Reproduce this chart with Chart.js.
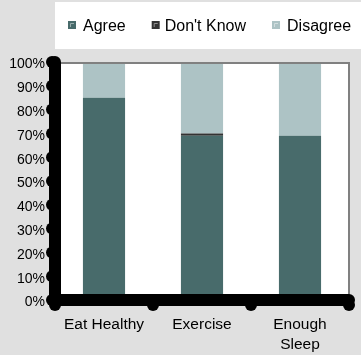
<!DOCTYPE html>
<html>
<head>
<meta charset="utf-8">
<script src="https://cdn.jsdelivr.net/npm/chart.js@4.4.0/dist/chart.umd.min.js"></script>
<style>
  html, body { margin: 0; padding: 0; background: #e0e0e0; }
  #wrap { width: 361px; height: 355px; }
</style>
</head>
<body>
<div id="wrap"><canvas id="survey-chart" width="361" height="355"></canvas></div>
<script>
// Survey answers, percent of respondents
const categories = [['Eat Healthy'], ['Exercise'], ['Enough', 'Sleep']];
const agree = [85, 69, 69];
const dontKnow = [0, 1, 0];
const disagree = [15, 30, 31];
const yTicks = [0, 10, 20, 30, 40, 50, 60, 70, 80, 90, 100];

const FONT = '"Liberation Sans", Arial, sans-serif';

function shade(hex, amt) {
  const n = parseInt(hex.slice(1), 16);
  const c = [n >> 16, (n >> 8) & 255, n & 255].map(v => Math.min(255, Math.round(v + (255 - v) * amt)));
  return `rgb(${c.join(',')})`;
}

// Backgrounds, plot frame, heavy axes and the legend strip
const framePlugin = {
  id: 'frame',
  beforeDraw(chart) {
    const { ctx, chartArea: a } = chart;
    ctx.save();
    ctx.fillStyle = '#e0e0e0';
    ctx.fillRect(0, 0, chart.width, chart.height);
    ctx.fillStyle = '#ffffff';
    ctx.fillRect(a.left, 2, chart.width - a.left, 47);
    ctx.fillRect(a.left, a.top, a.right - a.left, a.bottom - a.top);
    ctx.restore();
  },
  afterDatasetsDraw(chart) {
    const { ctx, chartArea: a } = chart;
    ctx.save();
    ctx.strokeStyle = '#808080';
    ctx.lineWidth = 2;
    ctx.beginPath();
    ctx.moveTo(a.left, a.top + 1);
    ctx.lineTo(a.right, a.top + 1);
    ctx.lineTo(a.right, a.bottom);
    ctx.stroke();
    ctx.restore();
  },
  afterDraw(chart) {
    const { ctx, chartArea: a, scales } = chart;
    ctx.save();
    ctx.strokeStyle = '#000';
    ctx.fillStyle = '#000';
    ctx.lineWidth = 12;
    ctx.lineCap = 'round';
    ctx.lineJoin = 'round';
    ctx.beginPath();
    ctx.moveTo(a.left, a.top);
    ctx.lineTo(a.left, a.bottom);
    ctx.lineTo(a.right, a.bottom);
    ctx.stroke();

    // tick knobs on the value axis
    scales.y.ticks.forEach(t => {
      const y = scales.y.getPixelForValue(t.value);
      ctx.beginPath();
      ctx.arc(a.left - 3, y, 6, 0, Math.PI * 2);
      ctx.fill();
    });
    // knobs at the category boundaries
    const step = (a.right - a.left) / categories.length;
    for (let i = 0; i <= categories.length; i++) {
      ctx.beginPath();
      ctx.arc(a.left + i * step, a.bottom + 5, 6, 0, Math.PI * 2);
      ctx.fill();
    }

    // legend
    ctx.font = `16px ${FONT}`;
    ctx.textBaseline = 'alphabetic';
    let x = 68;
    chart.data.datasets.forEach((ds, i) => {
      ctx.fillStyle = ds.backgroundColor;
      ctx.fillRect(x, 21, 8, 8);
      ctx.strokeStyle = shade(ds.backgroundColor, 0.45);
      ctx.lineWidth = 1;
      ctx.lineCap = 'butt';
      ctx.beginPath();
      ctx.moveTo(x + 2.5, 27);
      ctx.lineTo(x + 2.5, 23.5);
      ctx.lineTo(x + 6, 23.5);
      ctx.stroke();
      const gap = i === 1 ? 5 : 7;
      ctx.fillStyle = '#000';
      ctx.fillText(ds.label, x + 8 + gap, 30.5);
      x += 8 + gap + ctx.measureText(ds.label).width + 26;
    });
    ctx.restore();
  }
};

new Chart(document.getElementById('survey-chart'), {
  type: 'bar',
  data: {
    labels: categories,
    datasets: [
      { label: 'Agree', data: agree, backgroundColor: '#486b6b' },
      { label: "Don't Know", data: dontKnow, backgroundColor: '#333333' },
      { label: 'Disagree', data: disagree, backgroundColor: '#adc3c5' }
    ]
  },
  options: {
    responsive: false,
    animation: false,
    categoryPercentage: 1,
    barPercentage: 0.43,
    layout: { padding: { top: 62, right: 12, left: 0, bottom: 0 } },
    plugins: { legend: { display: false }, tooltip: { enabled: false } },
    scales: {
      x: {
        stacked: true,
        grid: { display: false, drawTicks: false },
        border: { display: false },
        ticks: { color: '#000', padding: 14, font: { family: FONT, size: 15.5, lineHeight: 1.34 }, maxRotation: 0 },
        afterFit(scale) { scale.height = 55; }
      },
      y: {
        stacked: true,
        min: 0,
        max: 100,
        afterBuildTicks(scale) { scale.ticks = yTicks.map(v => ({ value: v })); },
        grid: { display: false, drawTicks: false },
        border: { display: false },
        ticks: { color: '#000', padding: 10, labelOffset: 2.5, font: { family: FONT, size: 14 }, callback: v => v + '%' },
        afterFit(scale) { scale.width = 55; }
      }
    }
  },
  plugins: [framePlugin]
});
</script>
</body>
</html>
